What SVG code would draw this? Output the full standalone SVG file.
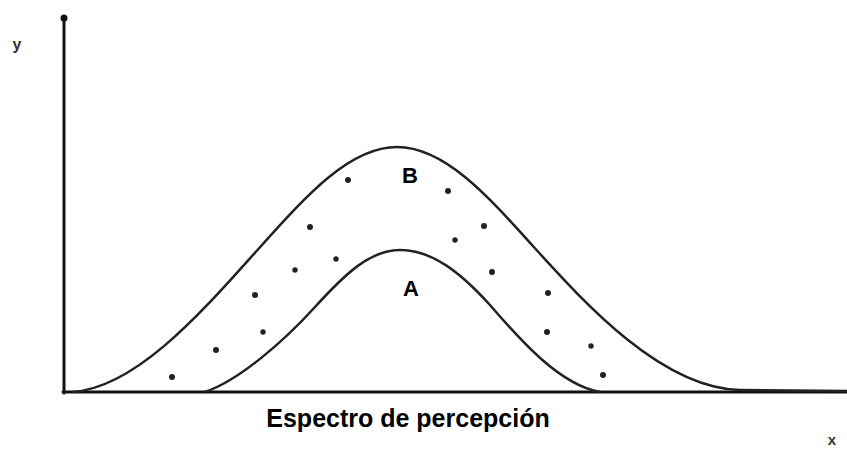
<svg xmlns="http://www.w3.org/2000/svg" width="847" height="457" viewBox="0 0 847 457">
<style>
.axis{stroke:#111;stroke-width:3;fill:none;stroke-linecap:round}
.curve{stroke:#222;stroke-width:2.5;fill:none}
.dot{fill:#222}
.lbl{font-family:"Liberation Sans",Arial,sans-serif;font-weight:bold;fill:#000}
.ax{font-family:"Liberation Sans",Arial,sans-serif;font-weight:bold;fill:#333}
</style>
<rect width="847" height="457" fill="#fff"/>
<g id="axes">
<line class="axis" x1="64" y1="18" x2="64" y2="393"/>
<line class="axis" x1="63" y1="392" x2="847" y2="392"/>
<circle cx="64" cy="18" r="3.5" fill="#111"/>
<text class="ax" x="17" y="50" font-size="16" text-anchor="middle">y</text>
<text class="ax" x="832" y="445" font-size="15" text-anchor="middle">x</text>
</g>
<g id="curveB">
<path class="curve" d="M72,392 C140,388 212,300 262,245 C307,195 350,147 397,147 C444,147 487,195 532,245 C582,300 660,388 740,390 L847,391"/>
<text class="lbl" x="410" y="183" font-size="22" text-anchor="middle">B</text>
</g>
<g id="curveA">
<path class="curve" d="M205,392 C240,380 285,340 315,307 C345,274 370,250 400,250 C432,250 460,272 490,305 C520,340 560,385 600,392"/>
<text class="lbl" x="411" y="296" font-size="22" text-anchor="middle">A</text>
</g>
<g id="dots">
<circle class="dot" cx="348" cy="180" r="3"/>
<circle class="dot" cx="448" cy="191" r="3"/>
<circle class="dot" cx="310" cy="227" r="3"/>
<circle class="dot" cx="484" cy="226" r="3"/>
<circle class="dot" cx="455" cy="240" r="2.7"/>
<circle class="dot" cx="336" cy="259" r="2.7"/>
<circle class="dot" cx="295" cy="270" r="2.7"/>
<circle class="dot" cx="492" cy="272" r="3"/>
<circle class="dot" cx="255" cy="295" r="3"/>
<circle class="dot" cx="548" cy="293" r="3"/>
<circle class="dot" cx="263" cy="332" r="2.7"/>
<circle class="dot" cx="547" cy="332" r="3"/>
<circle class="dot" cx="216" cy="350" r="3"/>
<circle class="dot" cx="591" cy="346" r="2.7"/>
<circle class="dot" cx="172" cy="377" r="3"/>
<circle class="dot" cx="603" cy="375" r="3"/>
</g>
<g id="caption">
<text class="lbl" x="408" y="427" font-size="25" text-anchor="middle">Espectro de percepción</text>
</g>
</svg>
